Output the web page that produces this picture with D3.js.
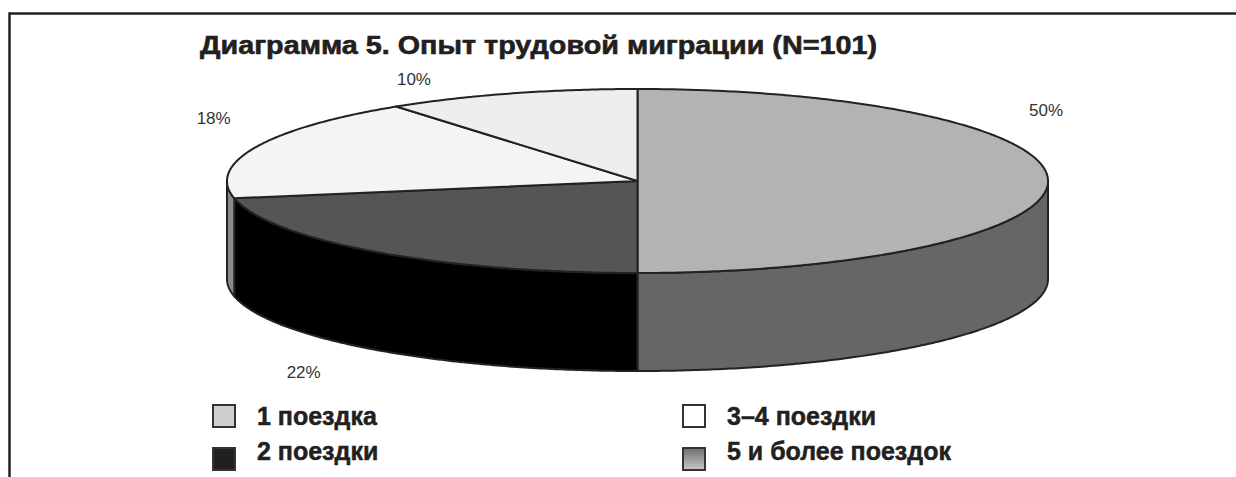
<!DOCTYPE html>
<html>
<head>
<meta charset="utf-8">
<script src="https://d3js.org/d3.v7.min.js"></script>
<style>
  body { margin: 0; background: #fff; }
  text { font-family: "Liberation Sans", Arial, sans-serif; }
  .title { font-size: 25px; font-weight: bold; fill: #231f20; stroke: #231f20; stroke-width: 0.6px; }
  .pct { font-size: 17px; fill: #333; }
  .legend-text { font-size: 25px; font-weight: bold; fill: #231f20; stroke: #231f20; stroke-width: 0.5px; }
</style>
</head>
<body>
<svg id="chart" width="1236" height="477"></svg>
<script>
// data
var categories = ["1 поездка", "2 поездки", "3–4 поездки", "5 и более поездок"];
var shares = [50, 22, 18, 10];
var pctLabels = ["50%", "22%", "18%", "10%"];

// styles
var topColors = ["#b3b3b3", "#555555", "#f4f4f4", "#eeeeee"];
var sideColors = ["#666666", "#000000", "#8a8a8a", "#9a9a9a"];
var legendFill = ["#cfcfcf", "#231f20", "#ffffff", "url(#grad5)"];
// label nudges from ellipse anchor (layout only)
var labelNudge = [[-43, -71], [-46, 15], [-4, -26], [-84, -6]];

var svg = d3.select("#chart");

var defs = svg.append("defs");
var grad = defs.append("linearGradient").attr("id", "grad5")
    .attr("x1", 0).attr("y1", 0).attr("x2", 0).attr("y2", 1);
grad.append("stop").attr("offset", "0%").attr("stop-color", "#6e6e6e");
grad.append("stop").attr("offset", "100%").attr("stop-color", "#c8c8c8");

// frame
svg.append("line").attr("x1", 9).attr("x2", 1236).attr("y1", 13.5).attr("y2", 13.5)
    .attr("stroke", "#222").attr("stroke-width", 2.5);
svg.append("line").attr("x1", 9.5).attr("x2", 9.5).attr("y1", 12.5).attr("y2", 477)
    .attr("stroke", "#222").attr("stroke-width", 2.5);

svg.append("text").attr("class", "title").attr("x", 200).attr("y", 54)
    .attr("textLength", 677).attr("lengthAdjust", "spacingAndGlyphs")
    .text("Диаграмма 5. Опыт трудовой миграции (N=101)");

// 3d pie geometry
var cx = 637.5, cy = 181, rx = 410.5, ry = 92, depth = 98;
function pt(a, dy) {
    return [cx + rx * Math.sin(a), cy - ry * Math.cos(a) + (dy || 0)];
}
function arcPts(a0, a1, dy) {
    var n = Math.max(2, Math.ceil(Math.abs(a1 - a0) / 0.01));
    var out = [];
    for (var i = 0; i <= n; i++) out.push(pt(a0 + (a1 - a0) * i / n, dy));
    return out;
}
var line = d3.line();

var slices = d3.pie().sort(null).value(function(d) { return d; })(shares);
var color = d3.scaleOrdinal().domain(categories).range(topColors);
var sideColor = d3.scaleOrdinal().domain(categories).range(sideColors);

var g = svg.append("g");

// side walls (front half only)
slices.forEach(function(s, i) {
    var a0 = Math.max(s.startAngle, Math.PI / 2);
    var a1 = Math.min(s.endAngle, Math.PI * 3 / 2);
    if (a0 >= a1) return;
    var p = arcPts(a0, a1, 0).concat(arcPts(a1, a0, depth));
    g.append("path")
        .attr("d", line(p) + "Z")
        .attr("fill", sideColor(categories[i]))
        .attr("stroke", "#222").attr("stroke-width", 2).attr("stroke-linejoin", "round");
});

// top faces
slices.forEach(function(s, i) {
    var p = [[cx, cy]].concat(arcPts(s.startAngle, s.endAngle, 0));
    g.append("path")
        .attr("d", line(p) + "Z")
        .attr("fill", color(categories[i]))
        .attr("stroke", "#222").attr("stroke-width", 2).attr("stroke-linejoin", "round");
});

// percentage labels
slices.forEach(function(s, i) {
    var mid = (s.startAngle + s.endAngle) / 2;
    var a = [cx + rx * 1.1 * Math.sin(mid), cy - ry * 1.1 * Math.cos(mid)];
    if (Math.cos(mid) < -0.01) a[1] += depth;
    svg.append("text").attr("class", "pct")
        .attr("x", a[0] + labelNudge[i][0])
        .attr("y", a[1] + labelNudge[i][1] + 6)
        .attr("text-anchor", "middle")
        .text(pctLabels[i]);
});

// legend, two columns
var legX = d3.scaleOrdinal().domain([0, 1]).range([213, 683]);
var legY = d3.scaleOrdinal().domain([0, 1]).range([405, 447]);
var legendOrder = [[0, 0], [0, 1], [1, 0], [1, 1]];
categories.forEach(function(c, i) {
    var col = legendOrder[i][0], row = legendOrder[i][1];
    svg.append("rect")
        .attr("x", legX(col)).attr("y", legY(row) + (row ? 1 : 0))
        .attr("width", 22).attr("height", 22)
        .attr("fill", legendFill[i])
        .attr("stroke", "#333").attr("stroke-width", 2);
    svg.append("text").attr("class", "legend-text")
        .attr("x", legX(col) + 44).attr("y", legY(row) + 20 + (row ? -7 : 0))
        .text(c);
});
</script>
</body>
</html>
